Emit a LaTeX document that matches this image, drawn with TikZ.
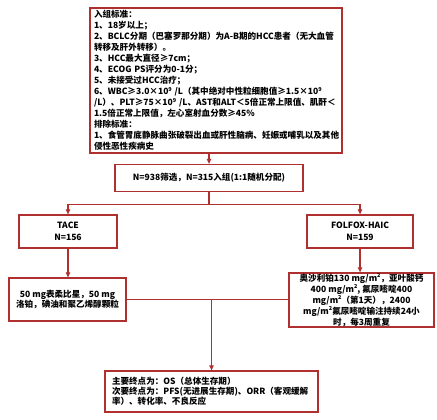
\documentclass[tikz,border=0pt]{standalone}
\usepackage{fontspec}
\setmainfont{Noto Sans CJK SC}
\usetikzlibrary{arrows.meta,calc}
\definecolor{bordred}{RGB}{176,48,48}
\newcommand\supx[1]{\raisebox{0.42em}{\fontsize{5.5}{6}\selectfont #1}}
\begin{document}
\begin{tikzpicture}[x=1bp,y=-1bp,
  box/.style={draw=bordred,line width=1.3pt,fill=white,inner sep=0pt,
    font=\fontsize{8.6}{11}\selectfont\bfseries},
  arr/.style={draw=bordred,line width=1.1pt,-{Triangle[length=5pt,width=4.5pt]}},
  ln/.style={draw=bordred,line width=1.1pt}]
\useasboundingbox (0,0) rectangle (437,419);
\node[box,minimum width=252bp,minimum height=145bp,text width=244bp,align=left] (inc) at (216,80.5)
{入组标准：\\
1、18岁以上；\\
2、BCLC分期（巴塞罗那分期）为A-B期的HCC患者（无大血管\\
转移及肝外转移）。\\
3、HCC最大直径≥7cm；\\
4、ECOG PS评分为0-1分；\\
5、未接受过HCC治疗；\\
6、WBC≥3.0×10\supx{9} /L（其中绝对中性粒细胞值≥1.5×10\supx{9}\\
/L）、PLT≥75×10\supx{9} /L、AST和ALT＜5倍正常上限值、肌酐＜\\
1.5倍正常上限值，左心室射血分数≥45\%\\
排除标准：\\
1、食管胃底静脉曲张破裂出血或肝性脑病、妊娠或哺乳以及其他\\
侵性恶性疾病史};
\node[box,minimum width=188bp,minimum height=27bp,align=center] (scr) at (209,178)
{N=938筛选，N=315入组(1:1随机分配)};
\node[box,minimum width=98bp,minimum height=33bp,align=center,
  font=\fontsize{8.6}{12}\selectfont\bfseries] (tace) at (68,231.5) {TACE\\N=156};
\node[box,minimum width=106bp,minimum height=33bp,align=center,
  font=\fontsize{8.6}{12}\selectfont\bfseries] (folf) at (360,231.5) {FOLFOX-HAIC\\N=159};
\node[box,minimum width=117bp,minimum height=43bp,align=center] (taced) at (67.5,299.5)
{50 mg表柔比星，50 mg\\洛铂，碘油和聚乙烯醇颗粒};
\node[box,minimum width=145bp,minimum height=54bp,align=center,
  font=\fontsize{8.6}{11}\selectfont\bfseries] (folfd) at (361.5,300)
{奥沙利铂130 mg/m\supx{2}，亚叶酸钙\\
400 mg/m\supx{2}, 氟尿嘧啶400\\
mg/m\supx{2}（第1天），2400\\
mg/m\supx{2}氟尿嘧啶输注持续24小\\
时，每3周重复};
\node[box,minimum width=213bp,minimum height=41bp,text width=199bp,align=left,
  font=\fontsize{8.6}{10.2}\selectfont\bfseries] (endp) at (211.5,391.5)
{主要终点为：OS（总体生存期）\\
次要终点为：PFS(无进展生存期)、ORR（客观缓解\\
率）、转化率、不良反应};
\draw[arr] (scr.north |- inc.south) -- (scr.north);
\coordinate (br) at ($(scr.south)+(0,12)$);
\draw[ln] (scr.south) -- (br);
\draw[arr] (br) -| (tace.north);
\draw[arr] (br) -| (folf.north);
\draw[arr] (tace.south) -- (tace.south |- taced.north);
\draw[arr] (folf.south) -- (folf.south |- folfd.north);
\draw[ln] (taced.east) -- (taced.east -| folfd.west);
\coordinate (jn) at (endp.north |- taced.east);
\draw[arr] (jn) -- (endp.north);
\end{tikzpicture}
\end{document}
